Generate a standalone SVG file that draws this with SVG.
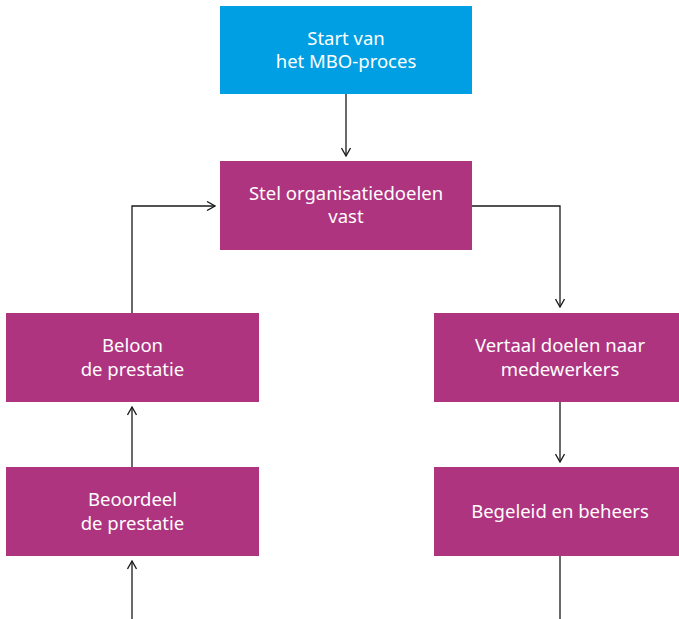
<svg xmlns="http://www.w3.org/2000/svg" width="679" height="619" viewBox="0 0 679 619">
<style>
.box{fill:#AE3480}
.start{fill:#009FE3}
.t{font-family:"Noto Sans","Liberation Sans",sans-serif;font-size:18.5px;fill:#ffffff;text-anchor:middle}
.c{fill:none;stroke:#1a1a1a;stroke-width:1.3}
</style>
<defs>
<marker id="ah" viewBox="0 0 10 10" refX="9" refY="5" markerWidth="10" markerHeight="10" markerUnits="userSpaceOnUse" orient="auto">
<path d="M1,0.5 L9,5 L1,9.5" fill="none" stroke="#1a1a1a" stroke-width="1.3"/>
</marker>
</defs>
<g id="connectors">
<path class="c" d="M346,94 V156" marker-end="url(#ah)"/>
<path class="c" d="M472,206 H560 V307" marker-end="url(#ah)"/>
<path class="c" d="M560,402 V462" marker-end="url(#ah)"/>
<path class="c" d="M560,556 V619"/>
<path class="c" d="M132,619 V561" marker-end="url(#ah)"/>
<path class="c" d="M132,467 V407" marker-end="url(#ah)"/>
<path class="c" d="M132,313 V206 H215" marker-end="url(#ah)"/>
</g>
<g id="start">
<rect class="start" x="220" y="6" width="252" height="88"/>
<text class="t" x="346" y="45">Start van</text>
<text class="t" x="346" y="68">het MBO-proces</text>
</g>
<g id="stel">
<rect class="box" x="220" y="161" width="252" height="89"/>
<text class="t" x="346" y="200">Stel organisatiedoelen</text>
<text class="t" x="346" y="223">vast</text>
</g>
<g id="vertaal">
<rect class="box" x="434" y="313" width="252" height="89"/>
<text class="t" x="560" y="352">Vertaal doelen naar</text>
<text class="t" x="560" y="376">medewerkers</text>
</g>
<g id="begeleid">
<rect class="box" x="434" y="467" width="252" height="89"/>
<text class="t" x="560" y="518">Begeleid en beheers</text>
</g>
<g id="beloon">
<rect class="box" x="6" y="313" width="253" height="89"/>
<text class="t" x="132.5" y="352">Beloon</text>
<text class="t" x="132.5" y="376">de prestatie</text>
</g>
<g id="beoordeel">
<rect class="box" x="6" y="467" width="253" height="89"/>
<text class="t" x="132.5" y="506">Beoordeel</text>
<text class="t" x="132.5" y="530">de prestatie</text>
</g>
</svg>
